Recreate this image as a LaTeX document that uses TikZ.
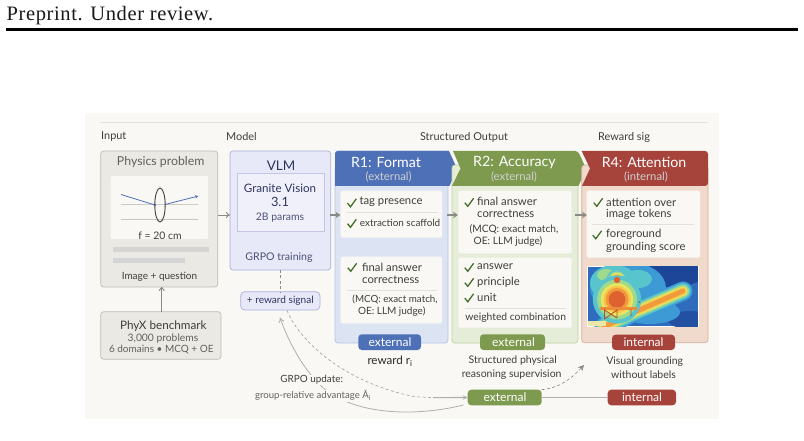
\documentclass[tikz,border=0pt]{standalone}
\usepackage{fontspec}
\setmainfont{Lato}
\newfontfamily\headfont[LetterSpace=3]{Liberation Serif}
\usetikzlibrary{arrows.meta,calc}
\definecolor{panelbg}{HTML}{FAF8F5}
\definecolor{rulecol}{HTML}{E4E1DC}
\definecolor{inkgray}{HTML}{3F3F3A}
\definecolor{softgray}{HTML}{62625C}
\definecolor{navyink}{HTML}{2E3460}
\definecolor{stonefill}{HTML}{EAE9E3}
\definecolor{stoneline}{HTML}{BDBCB2}
\definecolor{lavfill}{HTML}{E8E9F8}
\definecolor{lavline}{HTML}{A9AED8}
\definecolor{blueHead}{HTML}{4E70B6}
\definecolor{bluePanel}{HTML}{DCE4F4}
\definecolor{blueLine}{HTML}{B4C3E2}
\definecolor{greenHead}{HTML}{7E9A4E}
\definecolor{greenPanel}{HTML}{E5EDD8}
\definecolor{greenLine}{HTML}{C0D1A4}
\definecolor{redHead}{HTML}{A6433A}
\definecolor{redPanel}{HTML}{F0DACC}
\definecolor{redLine}{HTML}{D4AD9B}
\definecolor{cardfill}{HTML}{F9F8F4}
\definecolor{checkgreen}{HTML}{3F6B25}
\definecolor{connector}{HTML}{8A8A84}
\definecolor{lightconn}{HTML}{B0B0AA}
\definecolor{hBase}{HTML}{2F6CBE}
\definecolor{hDeep}{HTML}{1D4699}
\definecolor{hA}{HTML}{3E9AD4}
\definecolor{hB}{HTML}{58C4CC}
\definecolor{hC}{HTML}{9FD98E}
\definecolor{hD}{HTML}{E9E55E}
\definecolor{hE}{HTML}{F6C84C}
\definecolor{hF}{HTML}{F09A3C}
\definecolor{hG}{HTML}{DE6230}
\newcommand{\fs}[1]{\fontsize{#1}{#1}\selectfont}
% rectangle node given by its corners: style, name, x0, y0, x1, y1
\newcommand{\areabox}[6]{%
  \pgfmathsetmacro\bw{#5-(#3)}\pgfmathsetmacro\bh{#6-(#4)}%
  \node[#1,minimum width=\bw pt,minimum height=\bh pt,inner sep=0pt,outer sep=0pt] (#2) at ({(#3+#5)/2},{(#4+#6)/2}) {};}
\newcommand{\tick}[2]{\draw[checkgreen,line width=1.25pt,line join=miter] (#1-4.2,#2+0.2) -- (#1-1.2,#2+3.8) -- (#1+4.6,#2-4.2);}
% soft hot spots of the attention map
\newcommand{\heatline}[5]{\foreach \c/\s in {hA/3.4,hB/2.8,hC/2.2,hD/1.65,hE/1.25,hF/0.85}{\draw[\c,line cap=round,line width=#5*\s pt] (#1) -- (#2) -- (#3) -- (#4);}}
\newcommand{\heatdisc}[3]{\foreach \c/\s in {hB/2.3,hC/1.9,hD/1.55,hE/1.3,hF/1.1}{\fill[\c] (#1,#2) circle[radius=#3*\s pt];}}
\tikzset{
  canvasbox/.style={fill=panelbg},
  sectionlabel/.style={font=\fs{10.9},text=inkgray},
  stonebox/.style={draw=stoneline,fill=stonefill,line width=.7pt,rounded corners=3pt},
  lavbox/.style={draw=lavline,fill=lavfill,line width=.7pt,rounded corners=3pt},
  card/.style={fill=cardfill,rounded corners=1.5pt},
  bluepanel/.style={draw=blueLine,fill=bluePanel,line width=.7pt,rounded corners=3pt},
  greenpanel/.style={draw=greenLine,fill=greenPanel,line width=.7pt,rounded corners=3pt},
  redpanel/.style={draw=redLine,fill=redPanel,line width=.7pt,rounded corners=3pt},
  bluepill/.style={fill=blueHead,rounded corners=3.5pt},
  greenpill/.style={fill=greenHead,rounded corners=3.5pt},
  redpill/.style={fill=redHead,rounded corners=3.5pt},
  pilltext/.style={font=\fs{12},text=white,inner sep=0pt},
  headtitle/.style={font=\fs{14.2},text=white,inner sep=0pt},
  headsub/.style={font=\fs{11.3},text=white!82!black,inner sep=0pt},
  body/.style={font=\fs{11.3},text=inkgray,inner sep=0pt,anchor=west},
  bodyc/.style={font=\fs{10.2},text=inkgray,inner sep=0pt},
  caption/.style={font=\fs{10.5},text=inkgray,inner sep=0pt},
  thickflow/.style={connector,line width=1.9pt,-{Stealth[length=5pt,width=6.5pt]}},
  thinflow/.style={connector,line width=.9pt,-{To[length=4pt,width=6pt]}},
  softdash/.style={connector,line width=.65pt,dash pattern=on 3pt off 2.4pt},
  divider/.style={rulecol,line width=.6pt}
}
\begin{document}
\begin{tikzpicture}[x=1pt,y=-1pt]
\useasboundingbox (0,0) rectangle (804,441);
\fill[white] (0,0) rectangle (804,441);

% running head of the page
\node[font=\headfont\fs{20.5},text=black!90,anchor=base west,inner sep=0pt] (runhead) at (6.5,20.5) {Preprint. Under review.};
\draw[black,line width=2.5pt] (6,29.5) -- (798,29.5);

% figure canvas
\areabox{canvasbox}{canvas}{85}{113}{719}{419}
\draw[rulecol,line width=.7pt] (100,122.5) -- (708,122.5);
\node[sectionlabel,anchor=west,inner sep=0pt] (lblinput) at (101,137) {Input};
\node[sectionlabel,anchor=west,inner sep=0pt] (lblmodel) at (226,137) {Model};
\node[sectionlabel,inner sep=0pt] (lbloutput) at (464,137) {Structured Output};
\node[sectionlabel,anchor=west,inner sep=0pt] (lblreward) at (598,137) {Reward sig};

% input column
\areabox{stonebox}{problem}{100.7}{151}{217.7}{287}
\node[font=\fs{12.3},text=softgray,inner sep=0pt] (problemtitle) at (160.7,162) {Physics problem};
\areabox{card,fill=panelbg}{sketch}{110.7}{176}{208}{239}
\draw[rulecol!90!black,line width=.8pt] (121,204.5) -- (198,204.5);
\draw[black!22,line width=1pt] (121,220) -- (198,220);
\draw[blueHead,line width=.8pt] (121,194.5) -- (155,205);
\fill[blueHead] (155,205) circle[radius=1.1pt];
\draw[blueHead,line width=.8pt,-{Stealth[length=3.5pt,width=3.2pt]}] (165,204.5) -- (198.5,196);
\draw[black!75,line width=.9pt] (160,205) ellipse[x radius=5.2pt,y radius=17pt];
\node[font=\fs{10.4},text=inkgray,inner sep=0pt] (focal) at (160,235.5) {f = 20 cm};
\fill[black!17] (113,247) rectangle (209,252);
\fill[black!17] (113,257.5) rectangle (185,262.5);
\node[font=\fs{10},text=inkgray,inner sep=0pt] (problemcap) at (159.5,277) {Image + question};

\areabox{stonebox}{phyx}{100.7}{311.7}{221}{359.3}
\node[font=\fs{11.7},text=inkgray,inner sep=0pt] (phyxtitle) at (163.3,325.7) {PhyX benchmark};
\node[font=\fs{10.3},text=softgray,inner sep=0pt] (phyxa) at (163,338.7) {3,000 problems};
\node[font=\fs{10},text=softgray,inner sep=0pt] (phyxb) at (161.3,350) {6 domains • MCQ + OE};

% model column
\areabox{lavbox}{vlm}{230}{151}{330.7}{270}
\node[font=\fs{13.4},text=navyink,inner sep=0pt] (vlmtitle) at (281,166) {VLM};
\areabox{draw=lavline!70,fill=lavfill!70!white,line width=.6pt}{granite}{237.3}{173}{324}{231.7}
\node[font=\fs{11.6},text=navyink,inner sep=0pt] (gra) at (280,188) {Granite Vision};
\node[font=\fs{12.8},text=navyink,inner sep=0pt] (grb) at (280,202) {3.1};
\node[font=\fs{10.4},text=navyink!85,inner sep=0pt] (grc) at (280,217.5) {2B params};
\node[font=\fs{10.6},text=navyink!85,inner sep=0pt] (grpo) at (279,258) {GRPO training};
\areabox{lavbox,rounded corners=4pt}{signal}{240.7}{291.7}{320}{310}
\node[font=\fs{10.1},text=navyink,inner sep=0pt] (signaltext) at (280.3,301) {+ reward signal};

% R1 column
\areabox{bluepanel}{rone}{335}{165}{448}{343}
\fill[blueHead,rounded corners=3pt] (335,186) -- (335,151) -- (449,151);
\fill[blueHead] (338,151) -- (449,151) -- (457,168.5) -- (449.5,186) -- (335,186) -- (335,155) [rounded corners=3pt] -- (335,151) -- cycle;
\node[headtitle] (ronetitle) at (386,162.7) {R1: Format};
\node[headsub] (ronesub) at (388.7,176.7) {(external)};
\areabox{card}{ronea}{340.7}{190.7}{442}{237.7}
\draw[divider] (347,212) -- (438,212);
\tick{351.7}{203}
\node[body] (ra) at (359.3,202) {tag presence};
\tick{351.7}{223.5}
\node[body,font=\fs{9.9}] (rb) at (359.7,222.7) {extraction scaffold};
\areabox{card}{roneb}{340.7}{256.7}{442}{323.3}
\tick{352}{267.5}
\node[body] (rc) at (362,267) {final answer};
\node[body] (rd) at (362,280) {correctness};
\draw[divider] (347,290) -- (437,290);
\node[bodyc,font=\fs{9.8}] (re) at (395,299) {(MCQ: exact match,};
\node[bodyc,font=\fs{10}] (rf) at (391.7,311.3) {OE: LLM judge)};
\areabox{bluepill}{ronepill}{358.3}{334.3}{421}{350}
\node[pilltext] (ronepilltext) at (390,342) {external};
\node[caption,text=black!85,font=\fs{11.6}] (ronecap) at (390,361) {reward r$_{\mathrm{i}}$};

% R2 column
\areabox{greenpanel}{rtwo}{452}{165}{578}{343}
\fill[greenHead] (453,151) -- (575,151) [rounded corners=3pt] -- (578,151) [sharp corners] -- (586,168.5) -- (578.5,186) -- (452,186) -- (460.5,168.5) -- cycle;
\node[headtitle] (rtwotitle) at (514.5,162.7) {R2: Accuracy};
\node[headsub] (rtwosub) at (514,176.7) {(external)};
\areabox{card}{rtwoa}{458.3}{190.7}{571.7}{253.3}
\tick{469}{202.5}
\node[body] (sa) at (477,201.7) {final answer};
\node[body] (sb) at (477,214) {correctness};
\node[bodyc,font=\fs{10.2}] (sc) at (514,229.3) {(MCQ: exact match,};
\node[bodyc,font=\fs{10.2}] (sd) at (508,241) {OE: LLM judge)};
\areabox{card}{rtwob}{458.3}{257.7}{571.7}{327.7}
\tick{469}{267.5}
\node[body] (se) at (477,267) {answer};
\tick{469}{282.5}
\node[body] (sf) at (477,282) {principle};
\tick{469}{298}
\node[body] (sg) at (477,297.5) {unit};
\draw[divider] (465,308.3) -- (566,308.3);
\node[bodyc,font=\fs{10.3}] (sh) at (515.7,318) {weighted combination};
\areabox{greenpill}{rtwopill}{480}{334.3}{545}{350}
\node[pilltext] (rtwopilltext) at (513.5,342) {external};
\node[caption] (rtwocapa) at (512.7,361) {Structured physical};
\node[caption] (rtwocapb) at (511.7,374.7) {reasoning supervision};

% R4 column
\areabox{redpanel}{rfour}{581.7}{165}{708}{342.7}
\fill[redHead,rounded corners=3pt] (581.7,151) -- (708,151) -- (708,186) [sharp corners] -- (582,186) -- (590,168.5) -- cycle;
\node[headtitle] (rfourtitle) at (644,162.7) {R4: Attention};
\node[headsub] (rfoursub) at (646,176.7) {(internal)};
\areabox{card}{rfoura}{586.7}{190.7}{700}{257.7}
\draw[divider] (592,224) -- (694,224);
\tick{598}{202.5}
\node[body] (ta) at (606,202) {attention over};
\node[body] (tb) at (606,214) {image tokens};
\tick{597}{235}
\node[body] (tc) at (606,234) {foreground};
\node[body] (td) at (606,247) {grounding score};

% attention map over the scene
\areabox{fill=white}{heatframe}{587}{265.5}{699}{327}
\begin{scope}
  \clip (588,266.7) rectangle (697.8,326);
  \fill[hBase] (588,266.7) rectangle (698,326);
  \fill[hDeep] (672,274) ellipse[x radius=32pt,y radius=13pt];
  \fill[hDeep!70!hBase] (690,320) ellipse[x radius=22pt,y radius=9pt];
  \fill[hA] (628,288) ellipse[x radius=38pt,y radius=26pt];
  \fill[hA] (650,312) ellipse[x radius=30pt,y radius=12pt];
  \fill[hB] (614,283) ellipse[x radius=24pt,y radius=18pt];
  \fill[hB] (638,279) ellipse[x radius=14pt,y radius=9pt];
  \fill[hC] (606,275) ellipse[x radius=9pt,y radius=6pt];
  \heatline{604,327}{630,314}{660,301}{683,291}{5.6}
  \heatdisc{617}{280}{4.6}
  \heatdisc{617}{299.5}{10.5}
  \fill[hG] (617,299.5) circle[radius=8.5pt];
  \fill[hG] (617,280) circle[radius=3.2pt];
  \fill[hF!75!hG] (600,307) -- (637,307) -- (637,309.5) -- (600,309.5) -- cycle;
  \draw[hG!80!black,line width=.8pt] (604.5,309) -- (604.5,319) (617,309) -- (617,318) (631,309) -- (631,316) (604.5,310) -- (617,318) (617,310) -- (604.5,319);
  \fill[black!55] (639.5,302) circle[radius=1.2pt];
  \fill[hD!45!stonefill] (588,320.5) -- (606,320.5) -- (606,326) -- (588,326) -- cycle;
\end{scope}
\areabox{redpill}{rfourpill}{612}{334.7}{675}{350}
\node[pilltext] (rfourpilltext) at (643.5,342) {internal};
\node[caption] (rfourcapa) at (644.7,361.3) {Visual grounding};
\node[caption] (rfourcapb) at (643.5,374.7) {without labels};

% bottom strip
\areabox{greenpill}{extpill}{467.7}{389.7}{541.7}{405.3}
\node[pilltext] (extpilltext) at (505,397.5) {external};
\areabox{redpill}{intpill}{607.7}{389.7}{676}{405.3}
\node[pilltext] (intpilltext) at (642,397.5) {internal};
\draw[lightconn,line width=1.2pt] (extpill) -- (intpill);

% connectors between the stages
\draw[thinflow] (problem.east |- 0,215) -- (vlm.west |- 0,215);
\draw[thinflow,line width=1pt] (phyx.north -| 161.7,0) -- (problem.south -| 161.7,0);
\coordinate (vlmout) at (329.5,215);
\coordinate (roneout) at (447,215);
\coordinate (rtwoin) at (458,215);
\coordinate (rtwoout) at (575,215);
\coordinate (rfourin) at (587,215);
\draw[thickflow] (vlmout) -- (340.5,215);
\draw[thickflow] (roneout) -- (rtwoin);
\draw[thickflow] (rtwoout) -- (rfourin);
\draw[softdash] (vlm.south -| 280.7,0) -- (signal.north -| 280.7,0);

% reward feedback loop
\coordinate (signalfoot) at (287,310.5);
\coordinate (loopa) at (415,396.7);
\coordinate (loopb) at (433,397.6);
\draw[softdash,lightconn!70!connector] (signalfoot) .. controls (300,342) and (345,383) .. (loopa) -- (loopb);
\draw[lightconn,line width=1.1pt,-{Stealth[length=5pt,width=4.5pt]}] (loopb) -- (extpill.west);
\coordinate (gainstart) at (463.5,405);
\coordinate (gainend) at (280,317.5);
\draw[lightconn,line width=.8pt,-{To[length=5pt,width=6pt]}] (gainstart) .. controls (415,417) and (350,416) .. (318,383) .. controls (300,364) and (287,338) .. (gainend);
\coordinate (outflow) at (584,365);
\draw[softdash,-{Stealth[length=6pt,width=6pt]}] (extpill.north east) .. controls (560,388) and (572,378) .. (outflow);

\node[font=\fs{9.9},text=inkgray,fill=panelbg,inner sep=1pt] (grpoupd) at (311.7,380) {GRPO update:};
\node[font=\fs{9.6},text=softgray,fill=panelbg,inner sep=1pt] (grpoadv) at (313,395.7) {group-relative advantage Ā$_{\mathrm{i}}$};
\end{tikzpicture}
\end{document}
